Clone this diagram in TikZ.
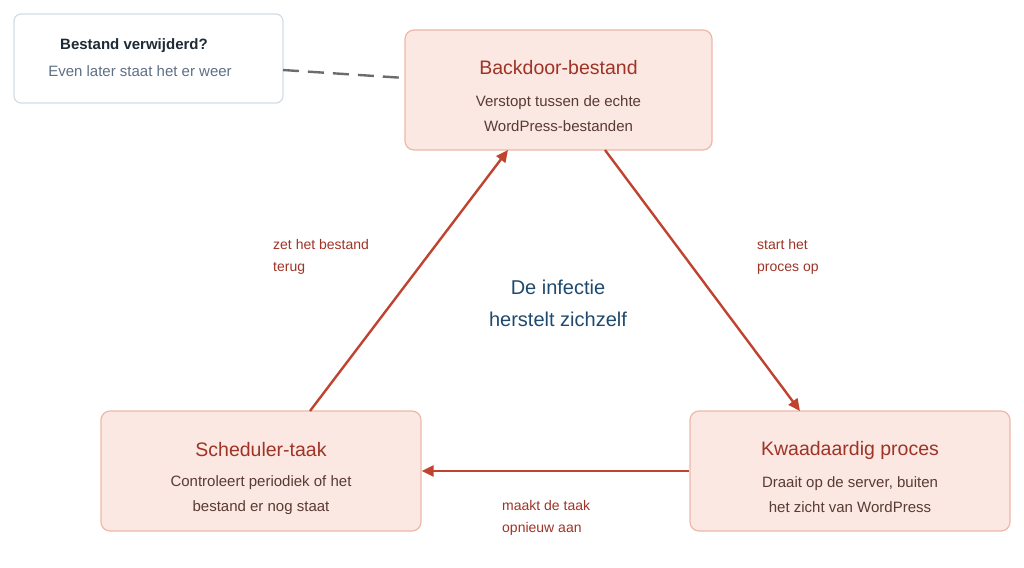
\documentclass[tikz,border=0pt]{standalone}
\usepackage{fontspec}
\setmainfont{Liberation Sans}
\usetikzlibrary{arrows.meta}
\definecolor{boxfill}{HTML}{FBE8E2}
\definecolor{boxdraw}{HTML}{EDB8A8}
\definecolor{titlec}{HTML}{9E3326}
\definecolor{bodyc}{HTML}{5A3A34}
\definecolor{arrowc}{HTML}{C0432F}
\definecolor{notedraw}{HTML}{D2DCE6}
\definecolor{notetitle}{HTML}{1E2A36}
\definecolor{notebody}{HTML}{5E7086}
\definecolor{centerc}{HTML}{1F4A6E}
\begin{document}
\begin{tikzpicture}[x=1pt,y=-1pt,
  box/.style={draw=boxdraw,fill=boxfill,line width=1.2pt,rounded corners=9pt,minimum width=#1,minimum height=120pt,inner sep=0pt,align=center},
  arr/.style={draw=arrowc,line width=2.4pt,-{Triangle[length=12pt,width=11pt]}},
  lab/.style={text=titlec,font=\fontsize{14}{22}\selectfont,align=left,anchor=north west,inner sep=0pt}]
\useasboundingbox (0,0) rectangle (1024,567);
\node[box=307pt] (b) at (558.5,90) {};
\node[text=titlec,font=\fontsize{19.5}{24}\selectfont] (bt) at (558.5,68) {Backdoor-bestand};
\node[text=bodyc,font=\fontsize{15}{25}\selectfont,align=center] (bb) at (558.5,114) {Verstopt tussen de echte\\WordPress-bestanden};
\node[box=320pt] (s) at (261,471) {};
\node[text=titlec,font=\fontsize{19.5}{24}\selectfont] (st) at (261,450) {Scheduler-taak};
\node[text=bodyc,font=\fontsize{15}{25}\selectfont,align=center] (sb) at (261,495) {Controleert periodiek of het\\bestand er nog staat};
\node[box=320pt] (k) at (850,471) {};
\node[text=titlec,font=\fontsize{19.5}{24}\selectfont] (kt) at (850,450) {Kwaadaardig proces};
\node[text=bodyc,font=\fontsize{15}{25}\selectfont,align=center] (kb) at (850,495) {Draait op de server, buiten\\het zicht van WordPress};
\node[draw=notedraw,fill=white,line width=1.2pt,rounded corners=7pt,minimum width=269pt,minimum height=89pt] (n) at (148.5,58.5) {};
\node[text=notetitle,font=\bfseries\fontsize{15}{18}\selectfont] (nt) at (134,46) {Bestand verwijderd?};
\node[text=notebody,font=\fontsize{15}{18}\selectfont] (nb) at (140,71) {Even later staat het er weer};
\coordinate (n1) at (283,70);
\coordinate (b0) at (405,78);
\draw[draw=gray!85!black,line width=2.4pt,dash pattern=on 16pt off 9pt] (n1) -- (b0);
\coordinate (b2) at (605,150);
\coordinate (k1) at (800,411);
\coordinate (s1) at (310,411);
\coordinate (b1) at (508,150);
\draw[arr] (b2) -- (k1);
\draw[arr] (s1) -- (b1);
\draw[arr] (k.west) -- (s.east);
\node[lab] (l1) at (273,239) {zet het bestand\\terug};
\node[lab] (l2) at (757,239) {start het\\proces op};
\node[lab] (l3) at (502,500) {maakt de taak\\opnieuw aan};
\node[text=centerc,font=\fontsize{20}{32}\selectfont,align=center] (c) at (558,303) {De infectie\\herstelt zichzelf};
\end{tikzpicture}
\end{document}
